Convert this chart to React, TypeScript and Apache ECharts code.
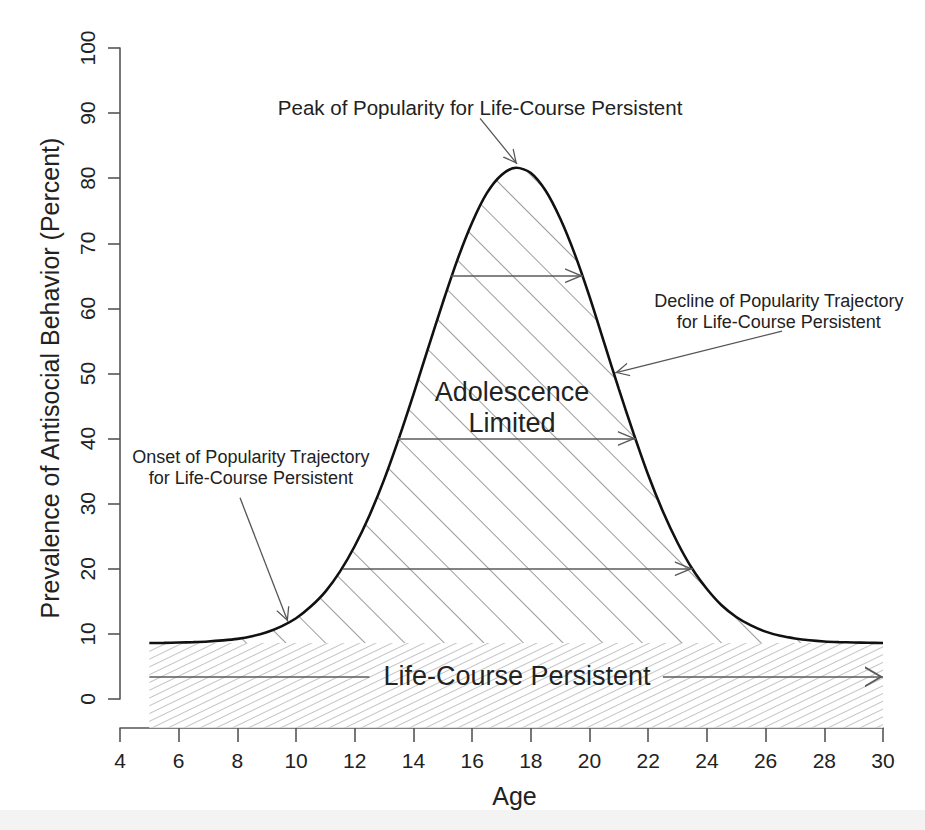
import { useEffect, useRef } from "react";
import * as echarts from "echarts";

// Age grid for the prevalence curve
const curveAges = [
  5, 5.5, 6, 6.5, 7, 7.5, 8, 8.5, 9, 9.5, 10, 10.5, 11, 11.5, 12, 12.5, 13, 13.5, 14, 14.5,
  15, 15.5, 16, 16.5, 17, 17.5, 18, 18.5, 19, 19.5, 20, 20.5, 21, 21.5, 22, 22.5, 23, 23.5,
  24, 24.5, 25, 25.5, 26, 26.5, 27, 27.5, 28, 28.5, 29, 29.5, 30,
];
// Prevalence of antisocial behavior (percent)
const curveValues = [
  8.6, 8.62, 8.67, 8.73, 8.83, 9.0, 9.24, 9.65, 10.25, 11.15, 12.4, 14.2, 16.5, 19.6, 23.5, 28.2,
  33.7, 40.0, 46.8, 53.9, 60.9, 67.5, 73.2, 77.7, 80.5, 81.6, 80.8, 78.1, 73.8, 68.3, 61.8, 54.7,
  47.6, 40.8, 34.4, 28.8, 24.0, 20.0, 16.9, 14.4, 12.6, 11.3, 10.35, 9.7, 9.3, 9.02, 8.84, 8.74,
  8.68, 8.63, 8.6,
];

// Life-course persistent band
const lifeCourseAges = [5, 30];
const lifeCourseLevel = 8.6;
const lifeCourseFloor = -4.4;

// Horizontal "adolescence limited" arrows: [startAge, endAge, level]
const adolescenceArrows = [
  [15.28, 19.78, 65],
  [13.47, 21.58, 40],
  [11.6, 23.52, 20],
];
// Life-course arrow (broken around the label): [startAge, endAge, level, hasHead]
const lifeCourseArrows = [
  [5, 12.5, 3.4, 0],
  [22.5, 30, 3.4, 1],
];
// Pointer arrows: [fromAge, fromValue, toAge, toValue]
const pointerArrows = [
  [16.27, 89.2, 17.53, 82.2],
  [26.56, 56.5, 20.87, 50.1],
  [8.09, 30.9, 9.72, 11.9],
];

// Text annotations: [age, value, text, size]
const annotations: [number, number, string, number][] = [
  [16.27, 90.9, "Peak of Popularity for Life-Course Persistent", 20.5],
  [26.45, 59.6, "Decline of Popularity Trajectory\nfor Life-Course Persistent", 18],
  [8.46, 35.6, "Onset of Popularity Trajectory\nfor Life-Course Persistent", 18],
  [17.36, 44.8, "Adolescence\nLimited", 27],
  [17.53, 3.6, "Life-Course Persistent", 27],
];

const xMin = 4;
const xMax = 30;
const xStep = 2;
const yMin = 0;
const yMax = 100;
const yStep = 10;

const FONT = "Liberation Sans";
const V_HEAD = "path://M5,0 L10,10 L9,10 L5,2 L1,10 L0,10 Z";

export default function App() {
  const ref = useRef<HTMLDivElement>(null);

  useEffect(() => {
    if (!ref.current) return;
    const chart = echarts.init(ref.current, null, { renderer: "svg" });

    const curveData = curveAges.map((a, i) => [a, curveValues[i]]);
    const bandData = lifeCourseAges.map((a) => [a, lifeCourseLevel]);

    const arrowStyle = { color: "#5a5a5a", width: 1.6, type: "solid" as const };

    const head = (w: number, h: number) => ({
      symbol: V_HEAD,
      symbolSize: [w, h],
      symbolOffset: [0, h / 2],
    });

    const markLineData: any[] = [];
    adolescenceArrows.forEach(([s, e, y]) => {
      markLineData.push([
        { coord: [s, y], symbol: "none" },
        { coord: [e, y], ...head(15, 18) },
      ]);
    });
    lifeCourseArrows.forEach(([s, e, y, h]) => {
      markLineData.push([
        { coord: [s, y], symbol: "none" },
        h ? { coord: [e, y], ...head(21, 18) } : { coord: [e, y], symbol: "none" },
      ]);
    });
    pointerArrows.forEach(([x1, y1, x2, y2]) => {
      markLineData.push([
        { coord: [x1, y1], symbol: "none", lineStyle: { width: 1.3, color: "#555" } },
        { coord: [x2, y2], ...head(14, 14) },
      ]);
    });

    const markPointData = annotations.map(([x, y, t, size]) => ({
      coord: [x, y],
      name: t,
      label: {
        show: true,
        position: "inside",
        formatter: t,
        fontSize: size,
        lineHeight: size >= 25 ? 31 : 21,
        color: "#222",
        fontFamily: FONT,
        align: "center",
        verticalAlign: "middle",
      },
    }));

    chart.setOption({
      animation: false,
      backgroundColor: "#ffffff",
      grid: {
        left: 120,
        right: 42,
        top: 48,
        bottom: 131,
        containLabel: false,
        outerBoundsMode: "none",
      },
      xAxis: {
        type: "value",
        min: xMin,
        max: xMax,
        interval: xStep,
        offset: 29,
        splitLine: { show: false },
        axisLine: { show: true, onZero: false, lineStyle: { color: "#555", width: 1.6 } },
        axisTick: { show: true, length: 14, lineStyle: { color: "#555", width: 1.6 } },
        axisLabel: { fontSize: 21, color: "#222", fontFamily: FONT, margin: 22, showMinLabel: true, showMaxLabel: true },
        name: "Age",
        nameLocation: "middle",
        nameGap: 55,
        nameTextStyle: { fontSize: 25, color: "#222", fontFamily: FONT, padding: [0, 0, 0, 26], verticalAlign: "top" },
      },
      yAxis: {
        type: "value",
        min: yMin,
        max: yMax,
        interval: yStep,
        splitLine: { show: false },
        axisLine: { show: true, onZero: false, lineStyle: { color: "#555", width: 1.6 } },
        axisTick: { show: true, length: 12, lineStyle: { color: "#555", width: 1.6 } },
        axisLabel: { fontSize: 21, color: "#222", fontFamily: FONT, margin: 22, rotate: 90, showMinLabel: true, showMaxLabel: true },
        name: "Prevalence of Antisocial Behavior (Percent)",
        nameLocation: "middle",
        nameGap: 58,
        nameRotate: 90,
        nameTextStyle: { fontSize: 25, color: "#222", fontFamily: FONT, padding: [0, 9, 0, 0] },
      },
      series: [
        {
          name: "Life-Course Persistent",
          type: "line",
          data: bandData,
          clip: false,
          z: 1,
          showSymbol: false,
          symbol: "none",
          lineStyle: { width: 0, opacity: 0 },
          itemStyle: {
            color: "#ffffff",
            decal: {
              symbol: "rect",
              symbolSize: 1,
              dashArrayX: [1, 0],
              dashArrayY: [1, 6],
              rotation: -0.45,
              color: "#c4c4c4",
            },
          },
          areaStyle: { origin: lifeCourseFloor, color: "#ffffff", opacity: 1 },
          silent: true,
        },
        {
          name: "Adolescence Limited",
          type: "line",
          data: curveData,
          smooth: 0.3,
          z: 3,
          showSymbol: false,
          symbol: "none",
          lineStyle: { color: "#111", width: 2.6 },
          itemStyle: {
            color: "#ffffff",
            decal: {
              symbol: "rect",
              symbolSize: 1,
              dashArrayX: [1, 0],
              dashArrayY: [1, 27],
              rotation: Math.PI / 4,
              color: "#9c9c9c",
            },
          },
          areaStyle: { origin: lifeCourseLevel, color: "#ffffff", opacity: 1 },
          silent: true,
        },
        {
          name: "annotations",
          type: "line",
          data: [],
          z: 5,
          silent: true,
          markLine: {
            silent: true,
            animation: false,
            symbol: ["none", V_HEAD],
            label: { show: false },
            lineStyle: arrowStyle,
            emphasis: { disabled: true },
            data: markLineData,
          },
          markPoint: {
            silent: true,
            animation: false,
            symbol: "rect",
            symbolSize: 1,
            itemStyle: { color: "rgba(0,0,0,0)" },
            data: markPointData,
          },
        },
      ],
      graphic: [
        {
          type: "rect",
          left: 0,
          top: 810,
          shape: { width: 925, height: 20 },
          style: { fill: "#f3f3f3" },
          silent: true,
          z: -10,
        },
      ],
    });

    return () => chart.dispose();
  }, []);

  return (
    <div
      ref={ref}
      style={{ position: "fixed", left: 0, top: 0, width: 925, height: 830, background: "#fff" }}
    />
  );
}
